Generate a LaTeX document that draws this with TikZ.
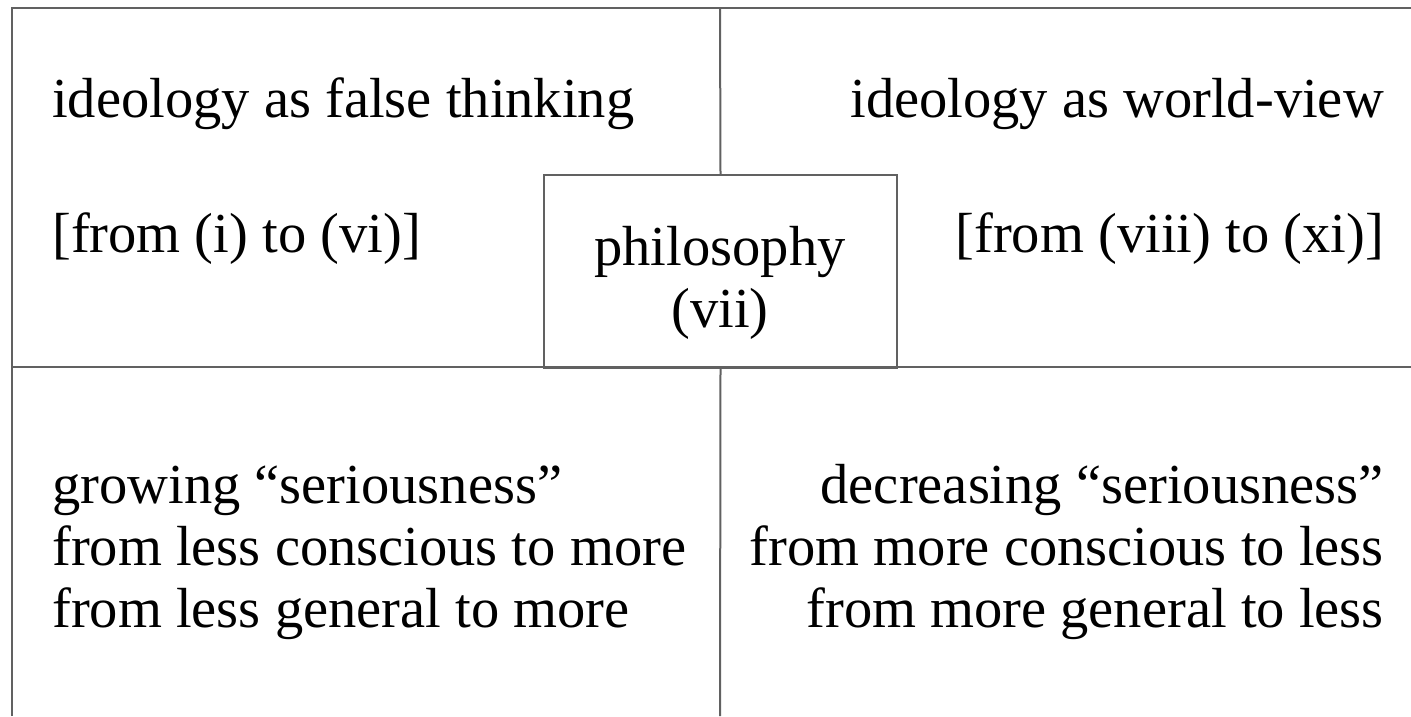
\documentclass[tikz,border=0pt]{standalone}
\usepackage{fontspec}
\setmainfont{Liberation Serif}
\begin{document}
\begin{tikzpicture}[x=1pt,y=-1pt,
  rule/.style={draw=black!62, line width=2pt},
  lbl/.style={inner sep=0pt, font=\fontsize{56.5}{62}\selectfont},
  ]
\useasboundingbox (0,0) rectangle (1411,716);
% frame coordinates
\coordinate (frameBL) at (12,716);
\coordinate (frameTL) at (12,8);
\coordinate (frameTR) at (1411,8);
\coordinate (midL) at (12,367);
\coordinate (midR) at (1411,367);
\coordinate (topC) at (720,8);
\coordinate (botC) at (720,716);
% central box
\node[rule, inner sep=0pt, minimum width=353pt, minimum height=193pt, anchor=north west] (phil) at (543,174) {};
% rules
\draw[rule] (frameBL) -- (frameTL) -- (frameTR);
\draw[rule] (midL) -- (midR);
\draw[rule] (topC) -- (phil.north);
\draw[rule] (phil.south) -- (botC);
% top texts
\node[lbl, anchor=base west] (fth) at (52,117) {ideology as false thinking};
\node[lbl, anchor=base east] (wv) at (1384,117) {ideology as world-view};
\node[lbl, anchor=base west] (r1) at (52,252) {[from (i) to (vi)]};
\node[lbl, anchor=base east] (r2) at (1384,252) {[from (viii) to (xi)]};
\node[lbl, anchor=base] (ph1) at (720,265) {philosophy};
\node[lbl, anchor=base] (ph2) at (720,327) {(vii)};
% bottom left
\node[lbl, anchor=base west] (bl1) at (52,503) {growing “seriousness”};
\node[lbl, anchor=base west] (bl2) at (52,565) {from less conscious to more};
\node[lbl, anchor=base west] (bl3) at (52,627) {from less general to more};
% bottom right
\node[lbl, anchor=base east] (br1) at (1384,503) {decreasing “seriousness”};
\node[lbl, anchor=base east] (br2) at (1384,565) {from more conscious to less};
\node[lbl, anchor=base east] (br3) at (1384,627) {from more general to less};
\end{tikzpicture}
\end{document}
